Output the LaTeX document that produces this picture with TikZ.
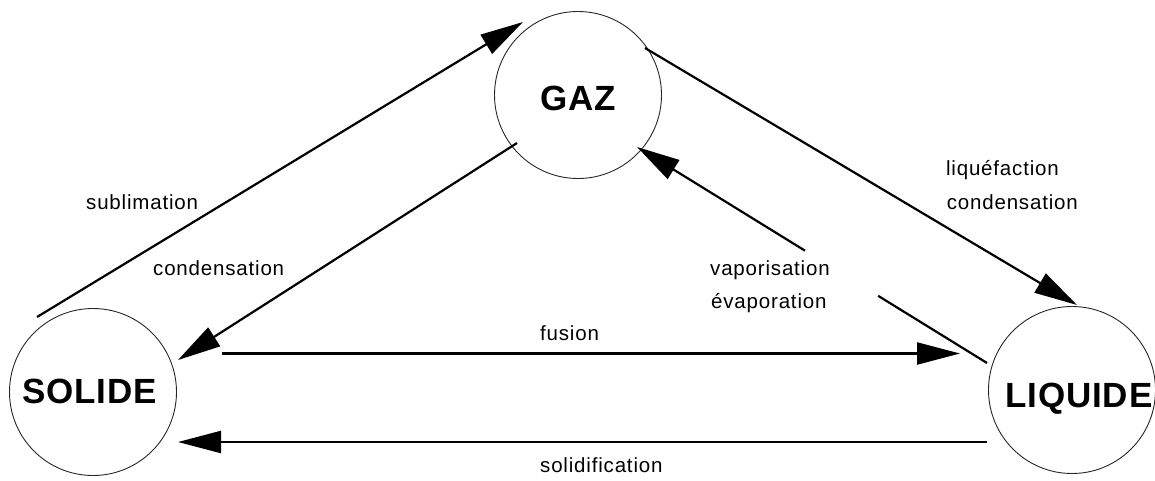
\documentclass[tikz,border=0pt]{standalone}
\usepackage{fontspec}
\setmainfont{Liberation Sans}
\newfontfamily\labfont[LetterSpace=4]{Liberation Sans}
\newfontfamily\phasefont[LetterSpace=2.5]{Liberation Sans}
\usetikzlibrary{arrows.meta,calc}
\begin{document}
\begin{tikzpicture}[x=1pt,y=-1pt,
  phase/.style={circle,draw=black!85,line width=0.9pt,minimum size=167pt,inner sep=0pt},
  phaselab/.style={font=\phasefont\fontsize{35}{40}\selectfont\bfseries,inner sep=0pt},
  lab/.style={font=\labfont\fontsize{20.5}{24}\selectfont,inner sep=0pt},
  conn/.style={line width=2.2pt,-{Triangle[length=43pt,width=22pt]}},
  plain/.style={line width=2.2pt}]
\useasboundingbox (0,0) rectangle (1155,480);
% phases
\node[phase] (gaz) at (578,95) {};
\node[phase] (solide) at (93,392) {};
\node[phase] (liquide) at (1072,390) {};
\node[phaselab,anchor=base] (tgaz) at (578.5,110) {GAZ};
\node[phaselab,anchor=base] (tsolide) at (89.5,403) {SOLIDE};
\node[phaselab,anchor=base west] (tliquide) at (1005,407) {LIQUIDE};
% connectors
\draw[conn] ([shift={(-56,-75)}]solide.center) -- ([shift={(-55,-73)}]gaz.center);
\draw[conn] ([shift={(-61,48)}]gaz.center) -- ([shift={(85,-32)}]solide.center);
\draw[conn] ([shift={(67,-47)}]gaz.center) -- ([shift={(5,-85)}]liquide.center);
\path ([shift={(-85,-27)}]liquide.center) coordinate (va)
  -- ([shift={(59,52)}]gaz.center) coordinate (vb)
  coordinate[pos=0.311] (v1) coordinate[pos=0.52] (v2);
\draw[plain] (va) -- (v1);
\draw[conn] (v2) -- (vb);
\draw[conn] ([shift={(129,-38.5)}]solide.center) -- ([shift={(-112,-36.5)}]liquide.center);
\draw[conn] ([shift={(-85,52)}]liquide.center) -- ([shift={(85,50)}]solide.center);
% labels
\node[lab,anchor=base west] (lsub) at (86,209) {sublimation};
\node[lab,anchor=base west] (lcond) at (153,275) {condensation};
\node[lab,anchor=base east] (lliq) at (1059,175) {liquéfaction};
\node[lab,anchor=base east] (lcond2) at (1078,209) {condensation};
\node[lab,anchor=base west] (lvap) at (710,275) {vaporisation};
\node[lab,anchor=base west] (levap) at (711,308) {évaporation};
\node[lab,anchor=base west] (lfus) at (540,340) {fusion};
\node[lab,anchor=base west] (lsol) at (540,472) {solidification};
\end{tikzpicture}
\end{document}
